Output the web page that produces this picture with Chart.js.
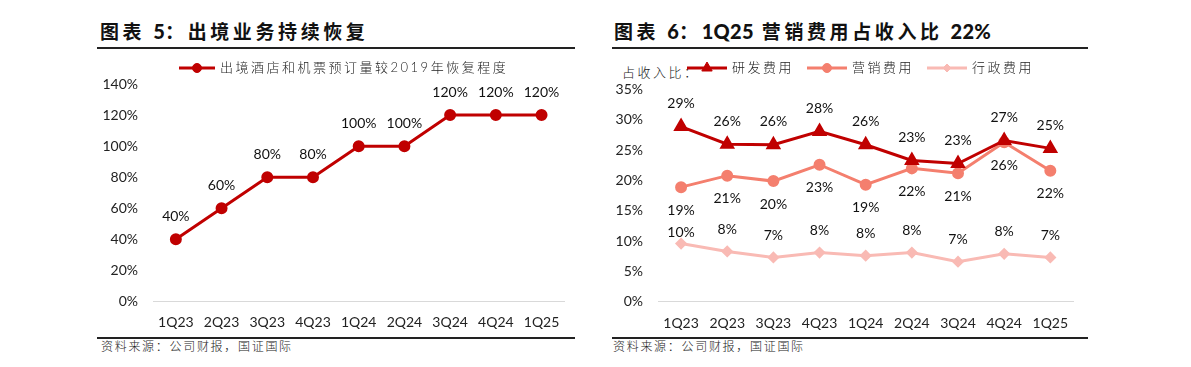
<!DOCTYPE html>
<html>
<head>
<meta charset="utf-8">
<script src="https://cdn.jsdelivr.net/npm/chart.js@4.4.1/dist/chart.umd.min.js"></script>
<style>
  body { margin: 0; background: #fff; width: 1191px; height: 367px; position: relative; overflow: hidden;
         font-family: "Noto Sans CJK SC", sans-serif; color: #111; }
  .title { position: absolute; top: 21px; font-size: 19px; line-height: 19px; font-weight: bold;
           letter-spacing: 3.6px; white-space: nowrap; }
  .title .n { font-family: Lato, "Noto Sans CJK SC", sans-serif; font-weight: 900; font-size: 20px; letter-spacing: 0.3px; }
  .rule { position: absolute; height: 2px; background: #222; }
  .src { position: absolute; top: 340px; font-size: 12px; line-height: 12px; font-weight: 300;
         letter-spacing: 1.7px; white-space: nowrap; color: #222; }
  .ylab { position: absolute; top: 65px; font-size: 13px; line-height: 13px; font-weight: 300;
          letter-spacing: 2.5px; white-space: nowrap; color: #222; }
  canvas { position: absolute; }
</style>
</head>
<body>
<div class="title" style="left:100px">图表 <span class="n">5</span>：出境业务持续恢复</div>
<div class="rule" style="left:97px;width:478px;top:47px"></div>
<div class="rule" style="left:97px;width:478px;top:337px;height:1.5px"></div>
<div class="src" style="left:101px">资料来源：公司财报，国证国际</div>

<div class="title" style="left:614px">图表 <span class="n">6</span>：<span class="n">1Q25</span> 营销费用占收入比 <span class="n">22%</span></div>
<div class="rule" style="left:612px;width:476px;top:47px"></div>
<div class="rule" style="left:612px;width:476px;top:337px;height:1.5px"></div>
<div class="src" style="left:613px">资料来源：公司财报，国证国际</div>
<div class="ylab" style="left:622px">占收入比：</div>

<canvas id="c1" width="478" height="290" style="left:97px;top:55px"></canvas>
<canvas id="c2" width="476" height="290" style="left:612px;top:55px"></canvas>

<script>
// 季度
var quarters = ["1Q23", "2Q23", "3Q23", "4Q23", "1Q24", "2Q24", "3Q24", "4Q24", "1Q25"];

// 图表5：出境酒店和机票预订量较2019年恢复程度 (%)
var recoveryName = "出境酒店和机票预订量较2019年恢复程度";
var recovery = [40, 60, 80, 80, 100, 100, 120, 120, 120];

// 图表6：占收入比 (%)
var rdName = "研发费用";
var rdRatio = [28.9, 26.0, 25.9, 28.1, 25.9, 23.3, 22.8, 26.6, 25.3];
var mktName = "营销费用";
var mktRatio = [18.9, 20.8, 19.9, 22.6, 19.3, 22.0, 21.2, 26.3, 21.6];
var adminName = "行政费用";
var adminRatio = [9.6, 8.3, 7.3, 8.1, 7.6, 8.1, 6.6, 7.9, 7.3];

var DARK = "#C00000", SALMON = "#F47F6E", PINK = "#F9BAB4";
var numFont = "Lato, 'Liberation Sans', sans-serif";
var cjkFont = "Lato, 'Noto Sans CJK SC', sans-serif";

// 数据标签
var valueLabels = {
  id: "valueLabels",
  afterDatasetsDraw: function(chart) {
    var ctx = chart.ctx;
    ctx.save();
    ctx.font = "14px " + numFont;
    ctx.fillStyle = "#111";
    ctx.textAlign = "center";
    ctx.textBaseline = "middle";
    chart.data.datasets.forEach(function(ds, i) {
      var meta = chart.getDatasetMeta(i);
      meta.data.forEach(function(pt, j) {
        var dy = typeof ds.labelDy === "function" ? ds.labelDy(j) : ds.labelDy;
        ctx.fillText(Math.round(ds.data[j]) + "%", pt.x, pt.y + dy);
      });
    });
    ctx.restore();
  }
};

// 图例：线段 + 标记
var lineLegend = {
  id: "lineLegend",
  afterDraw: function(chart, args, opts) {
    var ctx = chart.ctx;
    var x = opts.x;
    ctx.save();
    ctx.font = "300 13px " + cjkFont;
    ctx.textBaseline = "middle";
    chart.data.datasets.forEach(function(ds) {
      ctx.strokeStyle = ds.borderColor;
      ctx.fillStyle = ds.borderColor;
      ctx.lineWidth = ds.borderWidth;
      ctx.beginPath();
      ctx.moveTo(x, opts.y);
      ctx.lineTo(x + opts.lineLen, opts.y);
      ctx.stroke();
      ctx.lineWidth = 1;
      Chart.helpers.drawPoint(ctx, { pointStyle: ds.pointStyle, radius: ds.pointRadius, rotation: 0, borderWidth: 1 },
        x + opts.lineLen / 2, opts.y);
      x += opts.lineLen + 5;
      ctx.fillStyle = "#222";
      ctx.letterSpacing = "2.5px";
      ctx.fillText(ds.label, x, opts.y);
      x += ctx.measureText(ds.label).width + opts.itemGap;
      ctx.letterSpacing = "0px";
    });
    ctx.restore();
  }
};

function baseOptions(pad, yMax, yStep, yWidth, legendX, lineLen) {
  return {
    responsive: false,
    animation: false,
    layout: { padding: pad },
    plugins: {
      legend: { display: false },
      tooltip: { enabled: false },
      lineLegend: { x: legendX, y: 13, lineLen: lineLen, itemGap: 13 }
    },
    scales: {
      x: {
        offset: true,
        grid: { display: false, drawTicks: false },
        border: { display: true, color: "#D9D9D9", width: 1 },
        ticks: { color: "#222", font: { family: numFont, size: 14 }, padding: 13, maxRotation: 0, autoSkip: false },
        afterFit: function(s) { s.height = 30; }
      },
      y: {
        min: 0, max: yMax,
        grid: { display: false, drawTicks: false },
        border: { display: false },
        ticks: {
          stepSize: yStep, color: "#222", font: { family: numFont, size: 14 }, padding: 15,
          callback: function(v) { return v + "%"; }
        },
        afterFit: function(s) { s.width = yWidth; }
      }
    }
  };
}

new Chart(document.getElementById("c1"), {
  type: "line",
  data: {
    labels: quarters,
    datasets: [{
      label: recoveryName,
      data: recovery,
      borderColor: DARK, backgroundColor: DARK,
      borderWidth: 3, pointStyle: "circle", pointRadius: 4.5,
      pointBackgroundColor: DARK, pointBorderColor: DARK,
      tension: 0, labelDy: -23
    }]
  },
  options: baseOptions({ top: 29, left: 0, right: 10.6, bottom: 13.5 }, 140, 20, 56, 82, 36),
  plugins: [valueLabels, lineLegend]
});

new Chart(document.getElementById("c2"), {
  type: "line",
  data: {
    labels: quarters,
    datasets: [{
      label: rdName, data: rdRatio,
      borderColor: DARK, backgroundColor: DARK,
      borderWidth: 3, pointStyle: "triangle", pointRadius: 6,
      pointBackgroundColor: DARK, pointBorderColor: DARK, labelDy: -23
    }, {
      label: mktName, data: mktRatio,
      borderColor: SALMON, backgroundColor: SALMON,
      borderWidth: 3, pointStyle: "circle", pointRadius: 4.5,
      pointBackgroundColor: SALMON, pointBorderColor: SALMON, labelDy: 23
    }, {
      label: adminName, data: adminRatio,
      borderColor: PINK, backgroundColor: PINK,
      borderWidth: 3, pointStyle: "rectRot", pointRadius: 4,
      pointBackgroundColor: PINK, pointBorderColor: PINK,
      labelDy: function(j) { return j === 0 ? -11 : -22; }
    }]
  },
  options: baseOptions({ top: 34.6, left: 0, right: 14.6, bottom: 13.3 }, 35, 5, 46, 75, 40),
  plugins: [valueLabels, lineLegend]
});
</script>
</body>
</html>
